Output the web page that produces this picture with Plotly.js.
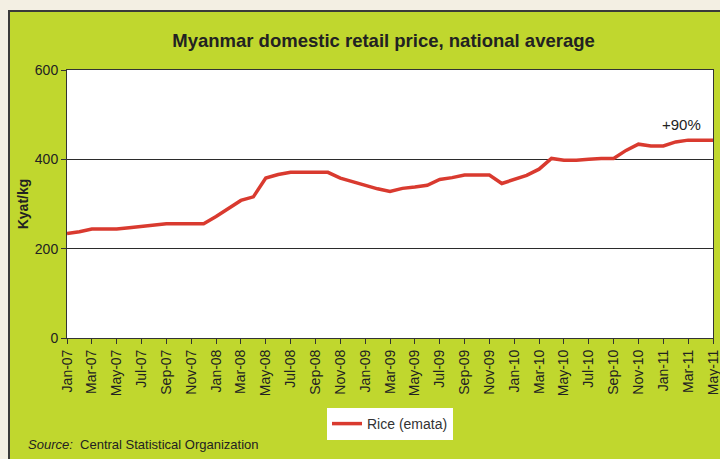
<!DOCTYPE html>
<html>
<head>
<meta charset="utf-8">
<script src="https://cdn.plot.ly/plotly-3.0.1.min.js"></script>
<style>
  html, body { margin: 0; padding: 0; background: #f3efe3; width: 720px; height: 459px; overflow: hidden; }
  #chart { position: absolute; left: 8px; top: 10px; width: 710px; height: 447px;
           border-left: 2px solid #3a3a3a; border-top: 2px solid #3a3a3a; }
</style>
</head>
<body>
<div id="chart"></div>
<script>
// Month categories, Jan-07 .. May-11
const months = [
  'Jan-07','Feb-07','Mar-07','Apr-07','May-07','Jun-07','Jul-07','Aug-07','Sep-07','Oct-07','Nov-07','Dec-07',
  'Jan-08','Feb-08','Mar-08','Apr-08','May-08','Jun-08','Jul-08','Aug-08','Sep-08','Oct-08','Nov-08','Dec-08',
  'Jan-09','Feb-09','Mar-09','Apr-09','May-09','Jun-09','Jul-09','Aug-09','Sep-09','Oct-09','Nov-09','Dec-09',
  'Jan-10','Feb-10','Mar-10','Apr-10','May-10','Jun-10','Jul-10','Aug-10','Sep-10','Oct-10','Nov-10','Dec-10',
  'Jan-11','Feb-11','Mar-11','Apr-11','May-11'
];
// Rice (emata) retail price, Kyat/kg
const rice = [
  234, 238, 244, 244, 244, 247, 250, 253, 256, 256, 256, 256,
  272, 290, 308, 316, 358, 366, 371, 371, 371, 371, 358, 350,
  340, 334, 328, 335, 338, 342, 355, 359, 365, 365, 365, 346,
  356, 364, 378, 402, 398, 398, 400, 402, 402, 420, 434, 430,
  430, 439, 443, 443, 443
];
// x tick labels (every second month)
const tickLabels = months.filter((m, i) => i % 2 === 0);
const yTicks = [0, 200, 400, 600];

const FONT = 'Liberation Sans, Arial, Helvetica, sans-serif';

const traces = [{
  type: 'scatter',
  mode: 'lines',
  name: 'Rice (emata)',
  x: months,
  y: rice,
  line: { color: '#d93a2f', width: 3.5 }
}];

const layout = {
  width: 710,
  height: 447,
  margin: { l: 57, r: 7, t: 58, b: 121 },
  paper_bgcolor: '#c0d72e',
  plot_bgcolor: '#ffffff',
  font: { family: FONT, color: '#222222', size: 14 },
  title: {
    text: 'Myanmar domestic retail price, national average',
    font: { family: FONT, size: 18.5, weight: 700, color: '#222222' },
    xref: 'paper', x: 0.49, xanchor: 'center',
    yref: 'container', y: 1 - 29 / 447, yanchor: 'middle'
  },
  xaxis: {
    type: 'category',
    categoryorder: 'array',
    categoryarray: months,
    range: [0, months.length - 1],
    tickmode: 'array',
    tickvals: tickLabels,
    ticktext: tickLabels,
    tickangle: -90,
    ticks: 'outside',
    ticklen: 5,
    tickcolor: '#333333',
    tickfont: { family: FONT, size: 14, color: '#222222' },
    showline: true,
    linecolor: '#333333',
    linewidth: 1,
    mirror: true,
    showgrid: false,
    zeroline: false,
    fixedrange: true
  },
  yaxis: {
    range: [0, 600],
    tickmode: 'array',
    tickvals: yTicks,
    ticks: 'outside',
    ticklen: 5,
    tickcolor: '#333333',
    tickfont: { family: FONT, size: 14, color: '#222222' },
    showline: true,
    linecolor: '#333333',
    linewidth: 1,
    mirror: true,
    showgrid: true,
    gridcolor: '#2b2b2b',
    gridwidth: 1,
    zeroline: false,
    title: {
      text: 'Kyat/kg',
      font: { family: FONT, size: 14, weight: 700, color: '#222222' },
      standoff: 2
    },
    fixedrange: true
  },
  showlegend: true,
  legend: {
    orientation: 'h',
    x: 0.5, xanchor: 'center',
    y: (338 - 424) / 268, yanchor: 'middle',
    bgcolor: '#ffffff',
    borderwidth: 0,
    font: { family: FONT, size: 14, color: '#333333' }
  },
  annotations: [
    {
      text: '+90%',
      x: 49.5, y: 477,
      xref: 'x', yref: 'y',
      showarrow: false,
      font: { family: FONT, size: 15, color: '#222222' }
    },
    {
      text: '<i>Source:</i>  Central Statistical Organization',
      xref: 'paper', yref: 'paper',
      x: (26 - 67) / 646, xanchor: 'left',
      y: (338 - 444) / 268, yanchor: 'middle',
      showarrow: false,
      font: { family: FONT, size: 13, color: '#222222' }
    }
  ]
};

Plotly.newPlot('chart', traces, layout, { displayModeBar: false, staticPlot: true });
</script>
</body>
</html>
